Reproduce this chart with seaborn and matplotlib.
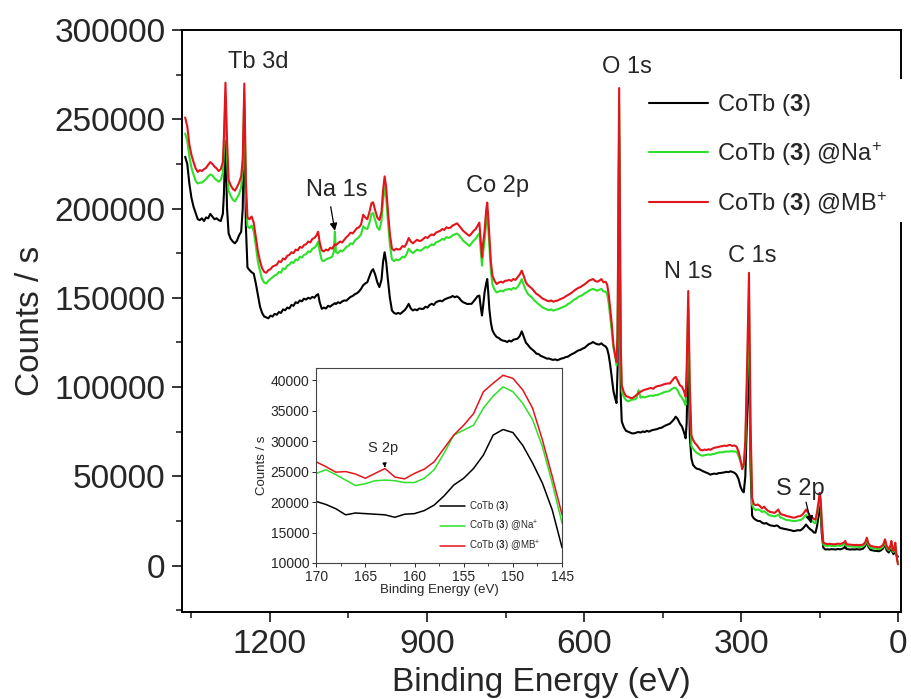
import matplotlib
matplotlib.use("Agg")
import matplotlib.pyplot as plt
from matplotlib.patches import Rectangle
import seaborn as sns

# ---------------- survey spectrum (counts / s vs. binding energy, eV) ----------------
binding_energy = [
    1362, 1358, 1354, 1350, 1346, 1342, 1338, 1334, 1330, 1326,
    1322, 1318, 1314, 1310, 1306, 1302, 1298, 1294, 1290, 1288,
    1285, 1282, 1279, 1275, 1271, 1267, 1263, 1259, 1255, 1252,
    1249, 1246, 1243, 1239, 1235, 1231, 1227, 1223, 1219, 1215,
    1211, 1207, 1203, 1199, 1195, 1191, 1187, 1183, 1179, 1175,
    1171, 1167, 1163, 1159, 1155, 1151, 1147, 1143, 1139, 1135,
    1131, 1127, 1123, 1119, 1115, 1111, 1108, 1105, 1101, 1097,
    1093, 1089, 1085, 1081, 1078, 1076, 1074, 1070, 1066, 1062,
    1058, 1054, 1050, 1046, 1042, 1038, 1034, 1030, 1026, 1022,
    1018, 1014, 1010, 1006, 1003, 999, 995, 991, 987, 984,
    981, 978, 975, 971, 967, 963, 959, 955, 951, 947,
    943, 939, 935, 931, 927, 923, 919, 915, 911, 907,
    903, 899, 895, 891, 887, 883, 879, 875, 871, 867,
    863, 859, 855, 851, 847, 843, 839, 835, 831, 827,
    823, 819, 815, 811, 807, 803, 800, 797, 795, 793,
    790, 787, 785, 783, 781, 778, 775, 771, 767, 763,
    759, 755, 751, 747, 743, 739, 735, 731, 727, 723,
    719, 715, 711, 707, 703, 699, 695, 691, 687, 683,
    679, 675, 671, 667, 663, 659, 655, 651, 647, 643,
    639, 635, 631, 627, 623, 619, 615, 611, 607, 603,
    599, 595, 591, 587, 583, 579, 575, 571, 567, 563,
    559, 556, 553, 550, 547, 544, 541, 538, 536, 533,
    530, 528, 524, 520, 516, 512, 508, 504, 500, 496,
    492, 488, 484, 480, 476, 472, 468, 464, 460, 456,
    452, 448, 444, 440, 436, 432, 428, 425, 421, 417,
    413, 409, 406, 404, 401, 398, 395, 392, 388, 385,
    381, 378, 374, 370, 366, 362, 359, 355, 351, 347,
    343, 340, 336, 332, 328, 324, 321, 317, 313, 309,
    305, 301, 298, 295, 292, 288, 285, 282, 279, 276,
    272, 268, 264, 260, 256, 252, 248, 244, 240, 236,
    232, 229, 225, 221, 217, 213, 209, 205, 200, 196,
    192, 187, 183, 179, 176, 172, 168, 164, 161, 158,
    155, 152, 150, 148, 146, 143, 139, 135, 131, 127,
    123, 119, 115, 111, 107, 103, 101, 99, 95, 91,
    87, 83, 79, 75, 71, 67, 63, 60, 57, 53,
    49, 45, 41, 37, 33, 29, 25, 22, 18, 15,
    13, 11, 9, 7, 5.5, 4, 2, 0.5,
]

counts_cotb = [
    229000, 225000, 214000, 206000, 201000, 197500, 194000, 193500, 194500, 193000,
    195000, 194500, 197000, 195500, 194000, 194500, 193500, 193000, 197000, 208000,
    238000, 200000, 186000, 183000, 181500, 180500, 182000, 185000, 187000, 200000,
    256000, 190000, 167000, 165500, 164300, 163500, 158000, 151500, 145000, 141500,
    139500, 139000, 138500, 140000, 139500, 141000, 140500, 142000, 141500, 143500,
    143000, 144500, 144000, 146000, 145500, 147500, 147000, 148500, 148000, 149500,
    149000, 150000, 149500, 150500, 150000, 151500, 152000, 147500, 143800, 144500,
    144000, 145500, 145000, 146000, 146500, 147000, 146500, 147500, 147000, 148000,
    148500, 148400, 149500, 150500, 151000, 152000, 152500, 153500, 155000, 157000,
    158000, 158700, 162000, 165000, 166000, 163000, 158700, 156000, 160000, 170000,
    175500, 170000, 161000, 150000, 142900, 141500, 141000, 141500, 141000, 142000,
    143000, 144500, 146600, 144000, 142900, 143500, 143000, 144000, 143800, 143800,
    145000, 144500, 146000, 146600, 146000, 147500, 148000, 148400, 148000, 149000,
    149500, 150000, 150300, 151000, 150300, 150800, 150000, 148500, 147500, 147000,
    146500, 146600, 146600, 148000, 149500, 151000, 151200, 144000, 140100, 145000,
    153100, 158000, 160500, 153000, 143800, 136000, 131700, 129500, 128000, 127500,
    126500, 126000, 125800, 125200, 126000, 125500, 126500, 126800, 127100, 128500,
    131200, 128000, 124800, 123500, 122000, 121000, 120000, 118700, 118500, 117500,
    117000, 116500, 115900, 116000, 115500, 115200, 115500, 115000, 115500, 116000,
    116200, 116800, 117000, 117800, 118500, 119000, 119800, 120500, 120800, 121500,
    122000, 123000, 124000, 124500, 125200, 124500, 124000, 123800, 124500, 123400,
    122800, 121500, 118000, 112200, 105000, 98000, 94000, 91000, 110000, 240000,
    95000, 80700, 77500, 75500, 75000, 74500, 74000, 74100, 74500, 74800,
    74500, 75100, 74800, 75500, 75000, 75600, 76000, 76200, 76500, 77000,
    77200, 77900, 78500, 79000, 79500, 80700, 82000, 83400, 82000, 79500,
    77900, 74500, 71300, 80000, 125000, 72000, 60000, 56500, 55000, 54300,
    54000, 53700, 53000, 52500, 52000, 51500, 50900, 51300, 51500, 51300,
    51800, 51800, 52000, 52200, 52500, 52300, 52800, 52500, 52000, 51000,
    48500, 44000, 42000, 41000, 50000, 90000, 120000, 55000, 28000, 26500,
    25600, 25000, 24900, 24000, 23500, 23800, 23000, 22500, 22300, 22100,
    22500, 22000, 21000, 20800, 20500, 20300, 20000, 19800, 19300, 19500,
    19800, 19700, 20500, 21800, 23000, 21500, 20300, 19500, 18500, 18400,
    22000, 28000, 33000, 30000, 18000, 10000, 9000, 9100, 9000, 9200,
    9100, 9000, 9300, 9100, 9400, 10000, 11000, 9300, 9100, 9000,
    9100, 9000, 9200, 9000, 9100, 9500, 11000, 13800, 10500, 8800,
    8500, 8300, 8200, 8000, 8500, 9500, 12000, 8500, 7300, 9000,
    11000, 7500, 6400, 8000, 9500, 6000, 5500, 5000,
]

counts_cotb_na = [
    242000, 238000, 229000, 223000, 219000, 215500, 214000, 214500, 214500, 215500,
    216500, 218000, 219000, 218500, 217000, 216000, 215000, 216000, 220000, 232000,
    262000, 228000, 210000, 207000, 205000, 204000, 206000, 208000, 212000, 222000,
    265000, 208000, 190000, 189000, 190500, 187000, 179000, 170000, 165000, 160500,
    158500, 158000, 159500, 160500, 161500, 162500, 163000, 164500, 164000, 166500,
    166000, 168000, 168500, 170000, 169500, 171500, 171000, 173000, 172500, 174000,
    174500, 176000, 175500, 177500, 178000, 179500, 181500, 176000, 171000, 170500,
    171500, 172000, 172500, 173000, 176000, 187000, 175500, 175000, 176500, 176000,
    177000, 178500, 179000, 180500, 180000, 182000, 183000, 184000, 185500, 190000,
    189000, 188500, 192000, 197000, 197500, 193500, 189500, 188000, 193000, 204000,
    212000, 206000, 194000, 180000, 171500, 170500, 171500, 171000, 171700, 173000,
    172500, 174500, 177500, 176000, 175000, 176000, 177000, 176500, 176500, 177500,
    178500, 178000, 179000, 180000, 179500, 181000, 181500, 182000, 183000, 182500,
    184000, 183500, 184000, 185000, 185500, 186000, 185000, 183500, 182000, 181000,
    180000, 179000, 180500, 182000, 183000, 185000, 186000, 175000, 168000, 175000,
    182000, 192000, 196000, 189000, 179000, 165000, 157500, 154500, 153000, 153500,
    154000, 153500, 154500, 154600, 155000, 154500, 155500, 155000, 156000, 158000,
    160500, 157000, 154000, 152000, 151000, 150000, 148500, 147500, 146500, 145500,
    144500, 144000, 143500, 143000, 143500, 142800, 143200, 143500, 144000, 144500,
    145000, 145500, 146500, 147000, 148000, 149000, 149500, 150500, 151000, 151500,
    152500, 153000, 154000, 154500, 155000, 154500, 154000, 154500, 155000, 153500,
    153500, 152000, 147000, 139000, 131000, 122000, 118500, 112000, 125000, 258000,
    118000, 97400, 94500, 92700, 92000, 92500, 93000, 93000, 93600, 98300,
    94000, 94500, 94200, 94600, 95000, 95200, 95000, 95500, 95500, 96000,
    96500, 97000, 97400, 97500, 98000, 99000, 99600, 99500, 98000, 95500,
    94000, 92000, 89900, 105000, 145000, 92000, 67000, 65500, 64000, 63200,
    62500, 62000, 61500, 61800, 62000, 62300, 62000, 62400, 62600, 63000,
    63300, 63500, 63400, 63700, 63900, 63800, 64000, 64000, 63800, 63900,
    61500, 58000, 56000, 55000, 66000, 110000, 150000, 70000, 34000, 32000,
    31000, 31500, 31000, 30000, 30500, 29500, 28500, 28000, 27800, 27500,
    28000, 28500, 27000, 26500, 26000, 25500, 25400, 25200, 24900, 25000,
    25200, 25500, 26000, 27500, 28500, 27000, 25500, 25000, 24000, 23700,
    28000, 34000, 38500, 35000, 23000, 11800, 11100, 11000, 11200, 11000,
    10900, 11000, 11200, 11000, 11300, 12000, 12800, 11000, 10800, 10700,
    10600, 10500, 10600, 10400, 10500, 10800, 12000, 14600, 11500, 10000,
    9800, 9500, 9400, 9200, 9600, 10500, 13500, 10000, 8500, 10000,
    12500, 9000, 7500, 9500, 11500, 7000, 3500, 2000,
]

counts_cotb_mb = [
    251000, 246000, 236000, 230000, 226000, 222500, 220500, 221500, 221000, 222000,
    222800, 224500, 226000, 225000, 223500, 222500, 221000, 222000, 226000, 240000,
    270500, 238000, 216000, 213000, 211000, 210000, 212000, 214500, 218000, 228000,
    270000, 215000, 195000, 194000, 195500, 192000, 184000, 176000, 170500, 166500,
    164500, 164000, 165500, 166000, 167500, 168000, 168500, 170500, 170000, 172000,
    171500, 173500, 174000, 175500, 175000, 177000, 176500, 178500, 178000, 179500,
    180000, 181500, 181000, 183000, 183500, 185000, 187000, 181000, 176500, 176000,
    177000, 176500, 178000, 177500, 179000, 180000, 179500, 180500, 181500, 181000,
    182500, 184000, 185000, 186500, 186000, 187500, 189000, 189500, 191000, 196500,
    195000, 194000, 198000, 203000, 203500, 199000, 195000, 193500, 198000, 210000,
    218000, 212000, 200000, 186000, 177500, 176500, 177500, 177000, 177300, 179000,
    178500, 180500, 183500, 181500, 180500, 181500, 182500, 181800, 182000, 183000,
    184000, 183500, 184700, 185500, 185000, 186500, 187000, 187500, 188500, 188000,
    189500, 189000, 189300, 190500, 191000, 191700, 190500, 189000, 187500, 186500,
    185500, 184700, 186000, 187500, 188500, 190500, 192100, 180000, 172600, 180000,
    187500, 199000, 203300, 195000, 184700, 170000, 162400, 159500, 157700, 158500,
    159000, 158500, 159500, 159600, 160000, 159500, 160500, 160000, 161500, 163000,
    165200, 162000, 158500, 157000, 156000, 155000, 153500, 152200, 151500, 150500,
    149500, 149000, 148400, 148000, 148500, 147800, 148200, 148400, 149000, 149500,
    150000, 150800, 151500, 152200, 153000, 154000, 154800, 155500, 156000, 156800,
    157500, 158500, 159500, 160000, 160500, 159500, 159000, 159500, 160500, 158700,
    159000, 157500, 152000, 143800, 135000, 124000, 118000, 114000, 130000, 267500,
    125000, 101000, 97000, 95000, 94500, 94000, 93800, 94500, 95500, 96500,
    97400, 98000, 98500, 98800, 99200, 99500, 99000, 100000, 100500, 100700,
    101000, 101500, 101800, 102000, 102000, 103500, 105000, 105700, 103500, 101000,
    100200, 97500, 94600, 110000, 153800, 100000, 73000, 70500, 68500, 67600,
    66000, 64800, 64500, 65000, 64700, 65200, 64800, 65500, 66000, 66200,
    66500, 66700, 66900, 67200, 67000, 67400, 67600, 67000, 67300, 66700,
    64000, 59000, 54000, 56500, 70000, 120000, 164000, 80000, 38000, 34500,
    33800, 34200, 33300, 32000, 33000, 31500, 30500, 30000, 29800, 29500,
    30500, 31400, 29000, 28500, 28200, 27700, 27500, 27200, 26800, 27000,
    27500, 27700, 28500, 30000, 31400, 29500, 27700, 27000, 26000, 25800,
    30000, 36000, 40700, 37000, 25000, 12800, 12300, 12000, 12200, 12000,
    11900, 12000, 12300, 12100, 12400, 13000, 13800, 12000, 11800, 11700,
    11600, 11500, 11600, 11400, 11500, 11800, 13000, 15600, 12500, 11000,
    10800, 10500, 10400, 10200, 10600, 11500, 14700, 11000, 9100, 11000,
    13800, 10000, 8200, 10500, 12800, 8000, 3000, 700,
]

# ---------------- S 2p detail region ----------------
detail_energy = [170, 169, 168, 167, 166, 165, 164, 163, 162, 161, 160, 159, 158,
                 157, 156, 155, 154, 153, 152, 151, 150, 149, 148, 147, 146, 145]
detail_cotb = [20100, 19600, 18900, 17900, 18200, 18100, 18000, 17900, 17500, 18000,
               18100, 18600, 19500, 21000, 22800, 23900, 25500, 27700, 31000, 31900,
               31400, 29300, 26400, 23100, 18700, 12500]
detail_cotb_na = [24700, 25300, 24500, 23600, 22700, 23000, 23500, 23600, 23500, 23200,
                  23200, 23900, 25300, 28000, 31000, 31800, 32600, 35400, 37400, 38900,
                  38100, 36200, 33500, 29100, 23100, 16500]
detail_cotb_mb = [26600, 25800, 24900, 25000, 24600, 23900, 24700, 25500, 24100, 23800,
                  24700, 25400, 26600, 28800, 31000, 32600, 34500, 38100, 39500, 40800,
                  40300, 38400, 35400, 30200, 24200, 17900]

series_labels = [r"CoTb ($\mathbf{3}$)",
                 r"CoTb ($\mathbf{3}$) @Na$^{+}$",
                 r"CoTb ($\mathbf{3}$) @MB$^{+}$"]
series_colors = ["#000000", "#2ee02a", "#e3141b"]

assert len(binding_energy) == len(counts_cotb) == len(counts_cotb_na) == len(counts_cotb_mb)

sns.set_style("ticks")
plt.rcParams["font.family"] = ["Liberation Sans", "DejaVu Sans"]
plt.rcParams["mathtext.fontset"] = "custom"
plt.rcParams["mathtext.rm"] = "Liberation Sans"
plt.rcParams["mathtext.it"] = "Liberation Sans:italic"
plt.rcParams["mathtext.bf"] = "Liberation Sans:bold"

fig = plt.figure(figsize=(9.11, 6.99), dpi=100)
ax = fig.add_axes([0.1998, 0.1245, 0.789, 0.8326])

survey = [counts_cotb, counts_cotb_na, counts_cotb_mb]
for values, color, label in zip(survey, series_colors, series_labels):
    sns.lineplot(x=binding_energy, y=values, ax=ax, color=color, linewidth=1.5,
                 estimator=None, sort=False, legend=False, label=label)

ax.set_xlim(1368, -5)
ax.set_ylim(-26000, 300000)
ax.set_xticks([1200, 900, 600, 300, 0])
ax.set_xticks([1350, 1050, 750, 450, 150], minor=True)
ax.set_yticks(list(range(0, 300001, 50000)))
ax.set_yticks(list(range(-25000, 300000, 50000)), minor=True)
ax.tick_params(axis="both", which="major", direction="out", length=7, width=1.3,
               labelsize=24, pad=5)
ax.tick_params(axis="both", which="minor", direction="out", length=4, width=1.2)
for s in ax.spines.values():
    s.set_linewidth(1.4)
    s.set_color("black")
ax.set_xlabel("Binding Energy (eV)", fontsize=24, labelpad=5)
ax.set_ylabel("Counts / s", fontsize=24, labelpad=6)

# peak assignments
peak_text = dict(fontsize=17, ha="center", va="center")
ax.text(1223, 282000, "Tb 3d", **peak_text)
ax.text(766, 212400, "Co 2p", **peak_text)
ax.text(518, 279000, "O 1s", **peak_text)
ax.text(401, 164400, "N 1s", **peak_text)
ax.text(279, 173400, "C 1s", **peak_text)
ax.text(1072, 210500, "Na 1s", **peak_text)
ax.text(187, 43000, "S 2p", **peak_text)
arrow_style = dict(arrowstyle="-|>", color="black", lw=0.9, mutation_scale=11,
                   shrinkA=0, shrinkB=0)
ax.annotate("", xy=(1076, 187500), xytext=(1084, 201000), arrowprops=arrow_style)
ax.annotate("", xy=(166, 23500), xytext=(176, 35500), arrowprops=arrow_style)

handles, labels = ax.get_legend_handles_labels()
leg = ax.legend(handles, labels, loc="upper left", bbox_to_anchor=(0.637, 0.91),
                frameon=False, fontsize=17, handlelength=2.5, handletextpad=0.35,
                labelspacing=0.93, borderpad=0.4, borderaxespad=0)
leg.set_zorder(6)
# the legend panel sits over the right-hand frame line
ax.add_patch(Rectangle((0.985, 0.67), 0.03, 0.246, transform=ax.transAxes,
                       facecolor="white", edgecolor="none", clip_on=False, zorder=5))

# ---------------- inset: S 2p region ----------------
axin = fig.add_axes([0.347, 0.1946, 0.270, 0.279])
axin.set_facecolor("white")
detail = [detail_cotb, detail_cotb_na, detail_cotb_mb]
for values, color, label in zip(detail, series_colors, series_labels):
    sns.lineplot(x=detail_energy, y=values, ax=axin, color=color, linewidth=1.1,
                 estimator=None, sort=False, legend=False, label=label)
axin.set_xlim(170, 145)
axin.set_ylim(10000, 42000)
axin.set_xticks([170, 165, 160, 155, 150, 145])
axin.set_xticks([167.5, 162.5, 157.5, 152.5, 147.5], minor=True)
axin.set_yticks(list(range(10000, 40001, 5000)))
axin.tick_params(axis="both", which="major", direction="out", length=3, width=0.7,
                 labelsize=10, pad=2)
axin.tick_params(axis="both", which="minor", direction="out", length=2, width=0.6)
for s in axin.spines.values():
    s.set_linewidth(0.8)
    s.set_color("#444444")
axin.set_xlabel("Binding Energy (eV)", fontsize=9.5, labelpad=0)
axin.set_ylabel("Counts / s", fontsize=9.5, labelpad=2)
axin.annotate("S 2p", xy=(163, 25700), xytext=(163.2, 28900), fontsize=10.5,
              ha="center", va="center",
              arrowprops=dict(arrowstyle="-|>", color="black", lw=0.7,
                              mutation_scale=6, shrinkA=6, shrinkB=0))
h2, l2 = axin.get_legend_handles_labels()
axin.legend(h2, l2, loc="lower left", bbox_to_anchor=(0.49, 0.03), frameon=False,
            fontsize=7, handlelength=2.6, handletextpad=0.4, labelspacing=0.55,
            borderpad=0.3, borderaxespad=0)

fig.savefig("out.png", dpi=100)
